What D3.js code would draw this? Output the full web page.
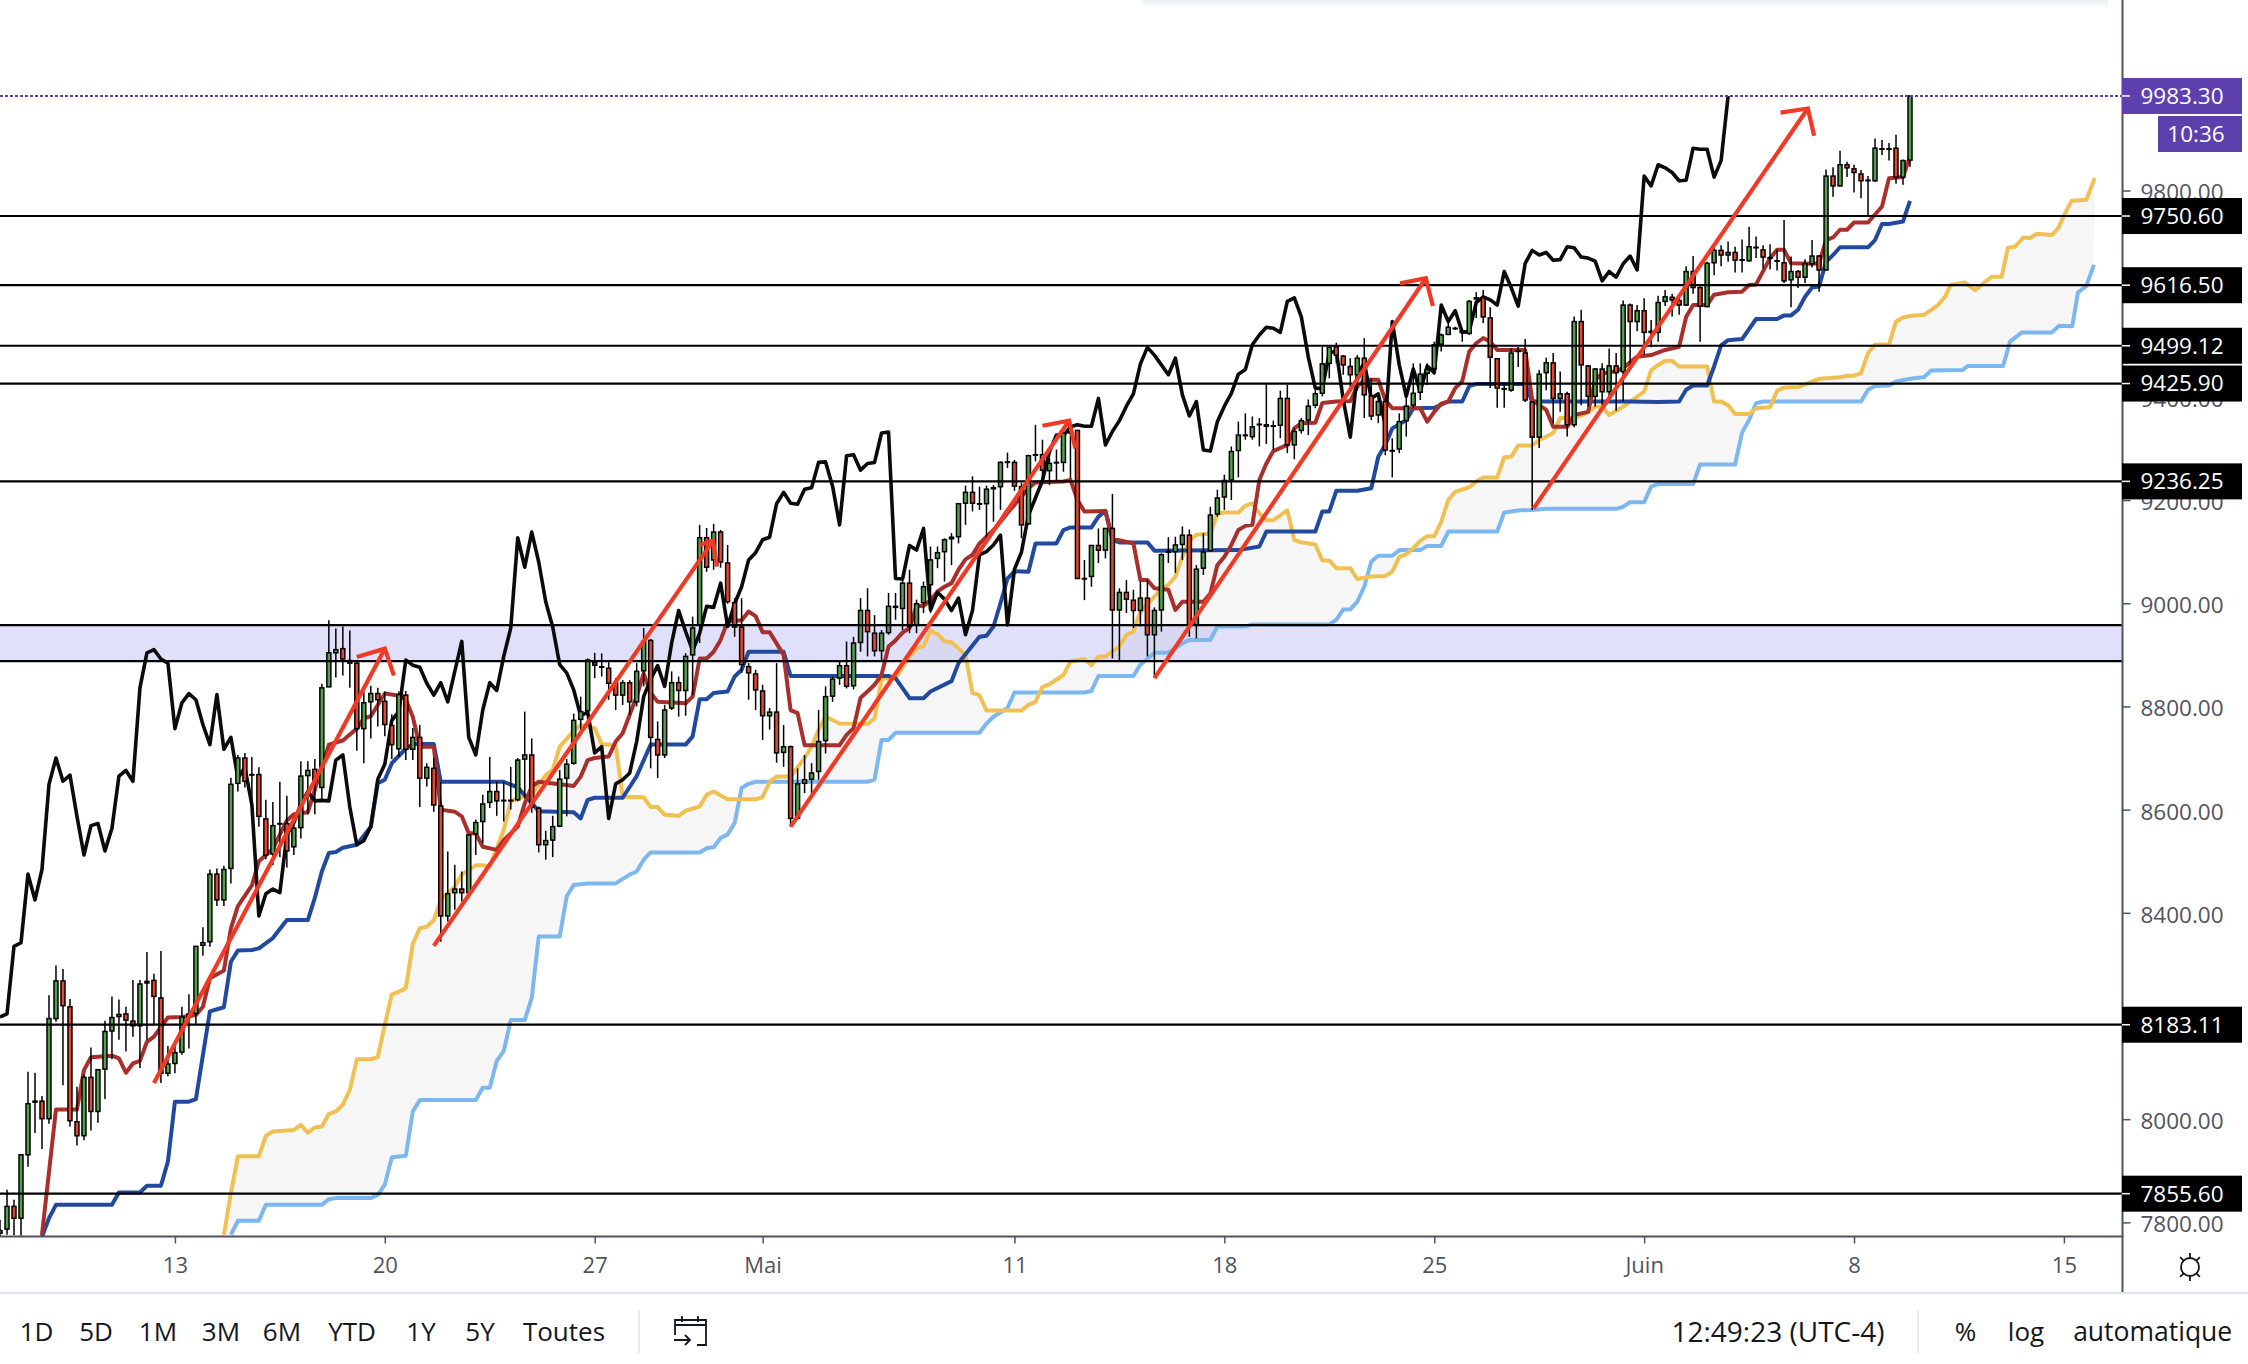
<!DOCTYPE html>
<html>
<head>
<meta charset="utf-8">
<title>BTC Ichimoku</title>
<script src="https://cdn.jsdelivr.net/npm/d3@7"></script>
<style>
  html, body { margin: 0; padding: 0; background: #fff; }
  svg { display: block; font-family: "Open Sans", sans-serif; }
</style>
</head>
<body>
<script>
// candles, one per 4h bar (30 bars a week)
const opens = [
  7779,7787,7831,7808,7931,8033,8035,8001,8195,8268,
  8218,7995,7968,8081,8015,8097,8171,8199,8204,8190,
  8181,8264,8269,8235,8089,8108,8130,8199,8205,8337,
  8344,8475,8425,8486,8651,8700,8668,8668,8582,8514,
  8573,8573,8528,8565,8666,8678,8643,8838,8904,8912,
  8889,8884,8757,8809,8825,8810,8763,8718,8822,8717,
  8740,8661,8680,8607,8394,8439,8446,8439,8553,8577,
  8614,8635,8617,8618,8619,8698,8706,8603,8532,8541,
  8568,8661,8690,8775,8792,8885,8877,8874,8845,8822,
  8846,8809,8869,8928,8736,8706,8797,8846,8831,8900,
  8958,9127,9084,9138,9078,9001,8954,8877,8863,8830,
  8782,8789,8711,8722,8583,8651,8659,8674,8734,8820,
  8855,8879,8840,8924,8986,8942,8908,8943,8994,8990,
  9039,8958,9001,9036,9087,9100,9125,9129,9194,9215,
  9193,9193,9222,9226,9273,9273,9226,9154,9287,9288,
  9257,9272,9273,9330,9335,9048,9052,9112,9103,9145,
  8987,9021,9006,8986,9010,8939,8987,9099,9100,9114,
  9132,8958,9068,9102,9173,9206,9239,9296,9326,9323,
  9347,9346,9344,9345,9397,9307,9335,9355,9384,9407,
  9465,9497,9479,9459,9443,9475,9402,9365,9391,9296,
  9299,9354,9384,9409,9446,9455,9502,9521,9533,9528,
  9523,9590,9592,9553,9474,9415,9413,9488,9485,9390,
  9322,9447,9466,9397,9406,9346,9546,9460,9401,9454,
  9410,9460,9449,9578,9546,9567,9525,9525,9585,9593,
  9587,9578,9643,9612,9575,9660,9684,9675,9680,9665,
  9664,9690,9685,9670,9664,9660,9627,9643,9632,9658,
  9673,9646,9828,9809,9850,9842,9832,9819,9819,9881,
  9881,9882,9826,9859
];
const highs = [
  7805,7863,7844,7931,8092,8090,8045,8240,8298,8291,
  8233,8063,8086,8139,8096,8191,8238,8232,8218,8270,
  8270,8324,8282,8326,8142,8150,8218,8242,8335,8372,
  8484,8486,8491,8662,8706,8710,8702,8682,8619,8615,
  8654,8627,8579,8694,8694,8698,8844,8967,8951,8955,
  8947,8888,8829,8840,8836,8829,8785,8829,8830,8758,
  8764,8690,8700,8654,8519,8493,8480,8551,8581,8629,
  8702,8654,8654,8683,8700,8790,8738,8606,8559,8588,
  8677,8698,8786,8819,8893,8904,8903,8887,8855,8851,
  8851,8884,8952,8931,8771,8803,8868,8858,8903,8974,
  9152,9146,9154,9142,9113,9010,9010,8884,8871,8842,
  8797,8884,8764,8724,8680,8706,8690,8793,8839,8858,
  8890,8926,8935,9010,9029,8977,8948,9020,9020,9049,
  9065,9007,9042,9110,9110,9126,9136,9194,9228,9246,
  9226,9228,9229,9275,9292,9278,9233,9288,9346,9317,
  9281,9298,9331,9354,9336,9084,9113,9145,9145,9212,
  9029,9045,9026,9042,9045,8992,9097,9128,9129,9149,
  9143,9074,9136,9187,9220,9249,9304,9352,9368,9362,
  9359,9426,9354,9412,9423,9339,9359,9395,9413,9497,
  9497,9505,9481,9475,9481,9514,9436,9404,9397,9320,
  9368,9407,9465,9465,9465,9507,9523,9543,9536,9533,
  9588,9603,9607,9574,9475,9423,9495,9497,9512,9392,
  9452,9476,9485,9449,9410,9556,9569,9462,9456,9465,
  9494,9485,9587,9581,9578,9591,9549,9596,9607,9600,
  9591,9653,9673,9614,9662,9688,9694,9701,9691,9705,
  9730,9711,9694,9696,9685,9743,9672,9646,9667,9704,
  9675,9841,9845,9877,9856,9850,9840,9828,9901,9898,
  9892,9908,9860,9983.3
];
const lows = [
  7772,7776,7775,7774,7908,7973,7942,7991,8189,8066,
  7986,7949,7959,7978,7993,8039,8116,8154,8131,8160,
  8099,8154,8183,8070,8083,8089,8125,8137,8185,8317,
  8334,8413,8413,8457,8635,8643,8607,8567,8504,8492,
  8508,8488,8512,8544,8591,8591,8615,8838,8856,8860,
  8836,8714,8690,8738,8761,8742,8698,8702,8696,8696,
  8605,8645,8596,8344,8383,8406,8422,8432,8512,8535,
  8603,8588,8577,8600,8616,8622,8594,8517,8503,8508,
  8566,8587,8687,8751,8785,8855,8858,8813,8793,8803,
  8784,8800,8839,8680,8661,8700,8793,8780,8782,8822,
  8923,9061,9065,9069,8999,8935,8865,8813,8793,8735,
  8755,8691,8683,8567,8581,8632,8632,8658,8709,8809,
  8842,8835,8833,8906,8897,8897,8887,8939,8968,8948,
  8942,8942,8981,8981,9068,9042,9074,9116,9152,9178,
  9181,9123,9158,9181,9262,9218,9126,9152,9275,9236,
  9229,9239,9255,9242,9047,9006,9032,9078,9087,8893,
  8887,8981,8952,8955,8897,8855,8945,9078,9059,9084,
  8935,8932,9055,9100,9168,9181,9200,9244,9317,9317,
  9304,9309,9297,9320,9291,9279,9329,9326,9378,9401,
  9436,9465,9443,9410,9413,9359,9355,9349,9287,9244,
  9291,9323,9378,9394,9423,9443,9488,9520,9530,9507,
  9520,9553,9543,9417,9379,9379,9410,9458,9390,9181,
  9301,9413,9349,9371,9323,9341,9384,9381,9381,9384,
  9401,9373,9391,9453,9527,9481,9496,9507,9576,9556,
  9559,9576,9600,9507,9574,9636,9653,9662,9641,9641,
  9662,9669,9649,9647,9645,9621,9574,9611,9621,9651,
  9604,9645,9788,9808,9826,9796,9785,9751,9817,9869,
  9858,9813,9811,9846
];
const closes = [
  7784,7831,7808,7931,8030,8035,8001,8195,8268,8220,
  7997,7968,8081,8015,8096,8170,8197,8203,8192,8181,
  8262,8267,8238,8089,8107,8129,8198,8204,8335,8342,
  8475,8425,8484,8649,8700,8655,8667,8587,8512,8569,
  8573,8520,8564,8665,8676,8655,8836,8904,8910,8892,
  8884,8757,8807,8825,8813,8765,8726,8823,8717,8740,
  8661,8682,8609,8394,8437,8446,8439,8551,8575,8611,
  8635,8617,8618,8617,8696,8706,8605,8532,8540,8567,
  8659,8688,8773,8790,8890,8880,8876,8845,8822,8846,
  8809,8868,8926,8740,8706,8793,8846,8831,8897,8952,
  9127,9070,9138,9080,9003,8954,8881,8865,8832,8782,
  8789,8710,8722,8583,8650,8658,8671,8732,8819,8853,
  8879,8839,8923,8986,8945,8908,8942,8994,8992,9039,
  8955,8999,9032,9084,9098,9123,9128,9193,9215,9194,
  9192,9221,9224,9273,9274,9227,9152,9286,9288,9258,
  9271,9273,9330,9332,9048,9047,9112,9103,9145,8987,
  9021,9008,8986,9010,8939,8986,9094,9100,9113,9132,
  8958,9066,9099,9171,9204,9238,9294,9326,9325,9342,
  9346,9343,9343,9397,9307,9333,9354,9382,9406,9464,
  9496,9481,9462,9443,9475,9404,9363,9391,9297,9295,
  9352,9382,9407,9444,9453,9501,9520,9535,9533,9525,
  9585,9592,9555,9477,9417,9416,9485,9489,9394,9322,
  9444,9466,9397,9406,9346,9546,9462,9401,9454,9410,
  9460,9447,9578,9546,9567,9525,9527,9583,9594,9588,
  9578,9643,9612,9576,9659,9684,9675,9680,9665,9666,
  9691,9689,9671,9669,9663,9625,9643,9632,9658,9673,
  9646,9828,9809,9850,9844,9835,9819,9820,9882,9880,
  9880,9826,9858,9983.3
];

// ichimoku lines, read as [bar, price] at each bend
const tenkan = [[6,7776],[8,8019],[11,8019],[12,8095],[13,8120],[16,8123],[17,8118],[18,8090],[19,8108],[20,8113],[21,8150],[22,8160],[24,8197],[26,8198],[28,8202],[29,8218],[30,8273],[32,8288],[33,8370],[34,8413],[36,8453],[37,8500],[39,8524],[41,8579],[42,8591],[44,8595],[47,8726],[49,8734],[51,8757],[52,8777],[53,8781],[55,8825],[57,8821],[58,8813],[59,8780],[60,8722],[62,8722],[63,8600],[65,8596],[66,8587],[67,8554],[68,8554],[69,8528],[71,8522],[72,8541],[74,8567],[75,8612],[76,8645],[77,8654],[82,8646],[83,8664],[84,8696],[85,8700],[87,8703],[88,8732],[89,8748],[90,8784],[91,8819],[92,8864],[93,8826],[94,8809],[98,8806],[99,8819],[100,8893],[101,8893],[102,8906],[103,8929],[104,8965],[106,8967],[107,8984],[108,8975],[109,8944],[110,8944],[112,8900],[113,8793],[114,8787],[115,8725],[120,8725],[121,8745],[122,8758],[123,8817],[124,8829],[125,8842],[126,8861],[127,8916],[128,8928],[129,8943],[130,8952],[131,8994],[132,8995],[133,9006],[134,9023],[135,9032],[136,9039],[137,9065],[138,9085],[139,9094],[140,9116],[141,9129],[142,9142],[143,9158],[144,9175],[146,9207],[147,9223],[148,9234],[152,9236],[153,9239],[154,9200],[155,9178],[158,9179],[159,9125],[162,9116],[163,9045],[164,9045],[165,9029],[167,9026],[168,8987],[169,9003],[172,9003],[173,9019],[174,9074],[175,9090],[176,9113],[177,9142],[178,9150],[179,9152],[180,9239],[181,9271],[182,9295],[184,9307],[185,9339],[186,9349],[188,9350],[189,9388],[191,9391],[193,9392],[194,9420],[195,9433],[197,9433],[198,9394],[199,9378],[203,9378],[204,9352],[205,9371],[206,9387],[207,9391],[208,9417],[209,9430],[210,9488],[211,9504],[212,9514],[213,9507],[214,9491],[218,9491],[219,9394],[220,9384],[221,9375],[222,9342],[224,9342],[225,9365],[227,9371],[228,9433],[229,9445],[231,9450],[232,9456],[234,9478],[236,9481],[238,9491],[240,9497],[241,9555],[242,9578],[244,9578],[245,9598],[247,9603],[249,9604],[250,9617],[251,9618],[253,9669],[254,9685],[255,9685],[256,9659],[259,9658],[260,9659],[261,9704],[262,9709],[263,9724],[264,9724],[265,9738],[267,9738],[269,9769],[270,9824],[272,9826],[273,9866]];
const kijun = [[6,7772],[7,7808],[8,7834],[16,7834],[17,7858],[20,7858],[21,7871],[23,7871],[24,7918],[25,8034],[27,8034],[28,8039],[30,8209],[32,8217],[33,8305],[34,8327],[36,8328],[37,8331],[39,8351],[41,8386],[44,8386],[45,8429],[46,8480],[47,8516],[48,8518],[49,8526],[51,8532],[53,8567],[54,8651],[55,8658],[56,8690],[58,8718],[59,8727],[62,8727],[63,8654],[72,8654],[74,8643],[77,8597],[82,8595],[83,8583],[84,8619],[85,8623],[89,8623],[91,8665],[93,8726],[98,8726],[99,8742],[100,8814],[101,8814],[102,8826],[104,8829],[105,8858],[106,8871],[107,8906],[112,8906],[113,8859],[127,8859],[128,8855],[130,8816],[132,8816],[133,8829],[136,8849],[137,8884],[140,8935],[141,8937],[142,8955],[143,9000],[144,9048],[145,9062],[147,9061],[148,9116],[151,9116],[152,9142],[153,9147],[156,9147],[157,9168],[158,9179],[159,9123],[160,9118],[164,9118],[165,9102],[177,9103],[180,9110],[181,9139],[188,9139],[189,9178],[190,9178],[191,9218],[194,9218],[196,9223],[197,9284],[198,9307],[199,9339],[200,9347],[201,9355],[202,9378],[205,9379],[207,9391],[209,9391],[210,9421],[211,9425],[218,9425],[219,9391],[233,9391],[237,9390],[240,9391],[241,9414],[242,9422],[244,9422],[245,9459],[246,9500],[247,9510],[249,9512],[251,9551],[254,9551],[255,9558],[256,9558],[257,9569],[258,9594],[259,9612],[260,9614],[261,9662],[262,9675],[263,9690],[267,9690],[268,9704],[269,9735],[270,9735],[272,9740],[273,9780]];
const spanA = [[32,7776],[33,7857],[34,7928],[37,7928],[38,7968],[39,7976],[42,7979],[43,7989],[44,7974],[45,7984],[46,7986],[47,8010],[48,8015],[49,8028],[50,8057],[51,8116],[53,8116],[54,8121],[55,8183],[56,8242],[57,8247],[58,8254],[59,8340],[60,8370],[61,8373],[62,8386],[63,8425],[65,8451],[66,8474],[68,8492],[69,8492],[70,8490],[71,8525],[72,8561],[73,8616],[74,8622],[76,8629],[78,8667],[79,8677],[80,8722],[82,8753],[83,8764],[85,8758],[86,8727],[88,8725],[89,8625],[92,8624],[93,8605],[94,8605],[95,8590],[97,8588],[98,8598],[100,8606],[101,8629],[102,8635],[104,8620],[108,8620],[109,8624],[110,8654],[111,8664],[113,8664],[115,8700],[116,8722],[117,8755],[118,8780],[120,8767],[124,8766],[125,8777],[126,8853],[128,8855],[130,8897],[131,8913],[132,8917],[133,8947],[134,8940],[135,8926],[136,8925],[138,8900],[139,8826],[140,8822],[141,8792],[146,8792],[147,8803],[148,8809],[149,8838],[150,8843],[152,8861],[153,8887],[155,8892],[156,8880],[157,8897],[158,8897],[160,8916],[161,8939],[162,8945],[163,8984],[165,9013],[166,9027],[167,9036],[168,9052],[169,9090],[170,9120],[171,9133],[173,9135],[174,9174],[175,9176],[177,9176],[178,9189],[179,9194],[180,9174],[181,9161],[182,9161],[184,9180],[185,9123],[186,9118],[188,9114],[189,9083],[190,9083],[191,9068],[193,9068],[194,9047],[196,9052],[198,9053],[199,9061],[200,9090],[201,9095],[202,9107],[203,9121],[204,9130],[205,9130],[206,9158],[207,9200],[208,9216],[210,9225],[211,9236],[212,9244],[214,9244],[215,9283],[216,9284],[217,9306],[219,9306],[220,9316],[222,9330],[223,9359],[225,9359],[227,9370],[228,9381],[229,9381],[230,9365],[232,9381],[233,9391],[235,9410],[236,9452],[237,9462],[238,9470],[239,9470],[240,9459],[244,9459],[245,9391],[246,9391],[247,9384],[248,9367],[250,9367],[251,9378],[253,9380],[254,9412],[255,9418],[257,9419],[260,9435],[263,9438],[264,9441],[265,9441],[266,9446],[267,9485],[268,9501],[270,9502],[271,9546],[272,9554],[273,9557],[275,9559],[277,9578],[278,9594],[278.8,9617],[280.8,9622],[282.3,9607],[284.7,9633],[286.1,9633],[287,9689],[288,9691],[289.2,9709],[290.2,9708],[291.1,9716],[293.3,9714],[294.2,9727],[294.9,9749],[296.1,9780],[298.2,9782],[299.4,9824]];
const spanB = [[33,7776],[34,7803],[37,7803],[38,7834],[46,7834],[47,7845],[48,7847],[53,7847],[54,7853],[55,7873],[56,7926],[58,7929],[59,8015],[60,8037],[68,8037],[69,8061],[70,8061],[71,8113],[72,8132],[73,8192],[75,8192],[76,8235],[77,8354],[80,8354],[81,8432],[82,8454],[84,8457],[88,8457],[90,8474],[91,8480],[92,8503],[93,8517],[100,8517],[101,8525],[102,8527],[103,8545],[104,8552],[105,8574],[106,8642],[107,8650],[108,8654],[124,8654],[125,8658],[126,8735],[127,8735],[128,8749],[140,8749],[141,8767],[142,8780],[144,8797],[145,8827],[155,8827],[156,8830],[157,8859],[162,8859],[163,8881],[165,8904],[167,8904],[168,8913],[169,8922],[170,8929],[173,8929],[174,8955],[178,8955],[179,8959],[190,8959],[191,8968],[192,8988],[193,8988],[194,9003],[195,9032],[196,9081],[197,9092],[199,9092],[200,9103],[203,9103],[204,9111],[206,9111],[207,9139],[214,9139],[215,9176],[217,9180],[219,9181],[221,9183],[231,9183],[232,9187],[233,9196],[235,9196],[236,9226],[237,9231],[242,9231],[243,9269],[248,9269],[249,9331],[250,9355],[251,9388],[252,9391],[266,9391],[267,9414],[268,9421],[270,9422],[271,9430],[273,9435],[275,9438],[276,9451],[280.5,9452],[281.3,9460],[286.3,9460],[287.3,9507],[289,9525],[293.3,9525],[294.3,9538],[296.2,9537],[297,9602],[298.2,9615],[299.3,9656]];

// chikou is the close drawn 26 bars back
const chikouShift = 26;

// drawn trend arrows: start, tip, and the two barb ends, as [bar, price]
const arrows = [
  [[22,8070],[55,8912],[51,8896],[56.3,8860]],
  [[62,8336],[101.9,9121],[100,9113],[102.5,9071]],
  [[113,8567],[152.8,9354],[149,9344],[153.7,9300]],
  [[165,8855],[203.8,9630],[200.1,9620],[204.8,9576]],
  [[219.2,9184],[258.4,9959],[254.5,9951],[259.3,9906]]
];

const levels = [9750.60, 9616.50, 9499.12, 9425.90, 9236.25, 8183.11, 7855.60];
const bandLevels = [8957.5, 8888];
const lastPrice = 9983.30;
const countdown = "10:36";

// 8200 and 9600 sit fully behind the level tags, so they get no label
const priceTicks = [7800, 8000, 8400, 8600, 8800, 9000, 9200, 9400, 9800];
const dateTicks = [25, 55, 85, 109, 145, 175, 205, 235, 265, 295];
const dateLabels = ["13", "20", "27", "Mai", "11", "18", "25", "Juin", "8", "15"];

const rangeButtons = ["1D", "5D", "1M", "3M", "6M", "YTD", "1Y", "5Y", "Toutes"];
const rangeCenters = [36.6, 96, 158, 221, 282, 352, 421, 480, 564];
const footerRight = ["12:49:23 (UTC-4)", "%", "log", "automatique"];
const footerRightCenters = [1778, 1965.5, 2026, 2152.7];
const footerRightSizes = [28, 26, 26, 26.5];

const w = 2248, h = 1364;
const plotW = 2122.5, plotH = 1236.5;
const axisColor = "#50535e", textDark = "#131722", purple = "#5e3fae", sepColor = "#e0e3eb";
const green = "#55a04c", red = "#e8472f";

const x = d3.scaleLinear().domain([3, 273]).range([21, 1910]);
const y = d3.scaleLinear().domain([7772.6, 10169.3]).range([plotH, 0]);

const svg = d3.select("body").append("svg")
  .attr("width", w)
  .attr("height", h);

svg.append("defs").append("clipPath").attr("id", "plot")
  .append("rect").attr("width", plotW).attr("height", plotH);

const shade = svg.select("defs").append("linearGradient")
  .attr("id", "topShade").attr("x1", 0).attr("x2", 0).attr("y1", 0).attr("y2", 1);
shade.append("stop").attr("offset", 0).attr("stop-color", "#eceef1");
shade.append("stop").attr("offset", 1).attr("stop-color", "#ffffff");

// faint edge of a floating panel at the very top
svg.append("rect")
  .attr("x", 1142).attr("y", 0).attr("width", 966).attr("height", 8)
  .attr("fill", "url(#topShade)");

const plot = svg.append("g").attr("clip-path", "url(#plot)");

// support band
plot.append("rect")
  .attr("x", 0).attr("width", plotW)
  .attr("y", y(bandLevels[0]))
  .attr("height", y(bandLevels[1]) - y(bandLevels[0]))
  .attr("fill", "#e0e0fb");

const pathOf = d3.line().x(d => x(d[0])).y(d => y(d[1]));

// cloud between the two leading spans
plot.append("path")
  .attr("d", pathOf(spanA.concat(spanB.slice().reverse())) + "Z")
  .attr("fill", "#000")
  .attr("fill-opacity", 0.036)
  .attr("fill-rule", "evenodd");

const ichimoku = [
  { data: spanB, color: "#7cb7f0", width: 4 },
  { data: spanA, color: "#f0c152", width: 4 },
  { data: kijun, color: "#21499f", width: 4 },
  { data: tenkan, color: "#a92f2d", width: 4 },
  { data: closes.slice(chikouShift).map((c, i) => [i, c]), color: "#0b0b0b", width: 3.6 }
];

plot.selectAll("path.ichi")
  .data(ichimoku)
  .enter()
  .append("path")
  .attr("class", "ichi")
  .attr("d", d => pathOf(d.data))
  .attr("fill", "none")
  .attr("stroke", d => d.color)
  .attr("stroke-width", d => d.width)
  .attr("stroke-linejoin", "round");

// candles
const bars = closes.map((c, i) => ({ i: i, o: opens[i], h: highs[i], l: lows[i], c: c }));

plot.selectAll("line.wick")
  .data(bars)
  .enter()
  .append("line")
  .attr("class", "wick")
  .attr("x1", d => x(d.i)).attr("x2", d => x(d.i))
  .attr("y1", d => y(d.h)).attr("y2", d => y(d.l))
  .attr("stroke", "#000")
  .attr("stroke-width", 1.5);

plot.selectAll("rect.body")
  .data(bars)
  .enter()
  .append("rect")
  .attr("class", "body")
  .attr("x", d => x(d.i) - 2)
  .attr("width", 4)
  .attr("y", d => y(Math.max(d.o, d.c)))
  .attr("height", d => Math.max(0.5, Math.abs(y(d.o) - y(d.c))))
  .attr("fill", d => d.c >= d.o ? green : red)
  .attr("stroke", "#000")
  .attr("stroke-width", 1.5);

// horizontal levels
plot.selectAll("line.level")
  .data(levels.concat(bandLevels))
  .enter()
  .append("line")
  .attr("class", "level")
  .attr("x1", 0).attr("x2", plotW)
  .attr("y1", d => y(d)).attr("y2", d => y(d))
  .attr("stroke", "#000")
  .attr("stroke-width", 2.2);

plot.append("line")
  .attr("x1", 0).attr("x2", plotW)
  .attr("y1", y(lastPrice)).attr("y2", y(lastPrice))
  .attr("stroke", purple)
  .attr("stroke-width", 2)
  .attr("stroke-dasharray", "3 2");

// trend arrows
arrows.forEach(a => {
  const g = plot.append("g")
    .attr("fill", "none")
    .attr("stroke", "#f03a26")
    .attr("stroke-width", 4.2);
  g.append("path").attr("d", pathOf([a[0], a[1]]));
  g.append("path").attr("d", pathOf([a[2], a[1], a[3]])).attr("stroke-linejoin", "miter");
});

// price axis
const yAxis = svg.append("g")
  .attr("transform", `translate(${plotW},0)`)
  .call(d3.axisRight(y).tickValues(priceTicks).tickSize(8).tickPadding(10).tickFormat(d3.format(".2f")));
yAxis.select(".domain").remove();
yAxis.selectAll("line").attr("stroke", axisColor).attr("stroke-width", 1.5);
yAxis.selectAll("text").attr("fill", axisColor).attr("font-size", 22.5).attr("font-family", "Open Sans").attr("dy", "0.42em");

// time axis
const xAxis = svg.append("g")
  .attr("transform", `translate(0,${plotH})`)
  .call(d3.axisBottom(x).tickValues(dateTicks).tickSize(7).tickPadding(14)
    .tickFormat((d, i) => dateLabels[i]));
xAxis.select(".domain").remove();
xAxis.selectAll("line").attr("stroke", axisColor).attr("stroke-width", 1.5);
xAxis.selectAll("text").attr("fill", axisColor).attr("font-size", 22).attr("font-family", "Open Sans");

svg.append("line")
  .attr("x1", 0).attr("x2", plotW + 1).attr("y1", plotH).attr("y2", plotH)
  .attr("stroke", axisColor).attr("stroke-width", 2);
svg.append("line")
  .attr("x1", plotW).attr("x2", plotW).attr("y1", 0).attr("y2", 1293)
  .attr("stroke", axisColor).attr("stroke-width", 2);
svg.append("line")
  .attr("x1", 0).attr("x2", w).attr("y1", 1293).attr("y2", 1293)
  .attr("stroke", sepColor).attr("stroke-width", 2);

// price labels on the axis
const tags = levels.map(v => ({ v: v, fill: "#000" }))
  .concat([{ v: lastPrice, fill: purple }]);
const tag = svg.selectAll("g.tag")
  .data(tags)
  .enter()
  .append("g")
  .attr("class", "tag")
  .attr("transform", d => `translate(${plotW - 0.5},${y(d.v)})`);
tag.append("rect")
  .attr("y", -18).attr("width", 120).attr("height", 36)
  .attr("fill", d => d.fill);
tag.append("line")
  .attr("x1", 0).attr("x2", 8).attr("stroke", "#fff").attr("stroke-width", 1.5);
tag.append("text")
  .attr("x", 18.5).attr("dy", "0.35em")
  .attr("fill", "#fff").attr("font-size", 22.5)
  .text(d => d.v.toFixed(2));

svg.append("rect")
  .attr("x", 2158).attr("y", 116).attr("width", 84).attr("height", 36)
  .attr("fill", purple);
svg.append("text")
  .attr("x", 2196).attr("y", 134).attr("dy", "0.35em")
  .attr("text-anchor", "middle")
  .attr("fill", "#fff").attr("font-size", 22.5)
  .text(countdown);

// footer
svg.selectAll("text.range")
  .data(rangeButtons)
  .enter()
  .append("text")
  .attr("class", "range")
  .attr("x", (d, i) => rangeCenters[i])
  .attr("y", 1332).attr("dy", "0.35em")
  .attr("text-anchor", "middle")
  .attr("fill", textDark).attr("font-size", 26)
  .text(d => d);

svg.selectAll("text.right")
  .data(footerRight)
  .enter()
  .append("text")
  .attr("class", "right")
  .attr("x", (d, i) => footerRightCenters[i])
  .attr("y", 1332).attr("dy", "0.35em")
  .attr("text-anchor", "middle")
  .attr("fill", textDark)
  .attr("font-size", (d, i) => footerRightSizes[i])
  .text(d => d);

[639, 1918].forEach(sx => {
  svg.append("line")
    .attr("x1", sx).attr("x2", sx).attr("y1", 1310).attr("y2", 1353)
    .attr("stroke", sepColor).attr("stroke-width", 1.5);
});

// go-to-date icon
svg.append("path")
  .attr("d", "M675 1335V1320H706V1345H697M675 1325H706M682 1316V1322M698 1316V1322M674 1340H690M685 1335L690 1340L685 1345")
  .attr("fill", "none").attr("stroke", textDark).attr("stroke-width", 1.8);

// settings sun icon
const sun = svg.append("g")
  .attr("transform", "translate(2190,1267)")
  .attr("fill", "none").attr("stroke", textDark).attr("stroke-width", 1.8);
sun.append("circle").attr("r", 9);
d3.range(0, 8).forEach(k => {
  if (k === 2 || k === 6) return;
  const ang = k * Math.PI / 4 + Math.PI / 2;
  sun.append("line")
    .attr("x1", 9 * Math.cos(ang)).attr("y1", 9 * Math.sin(ang))
    .attr("x2", 14 * Math.cos(ang)).attr("y2", 14 * Math.sin(ang));
});
</script>
</body>
</html>
